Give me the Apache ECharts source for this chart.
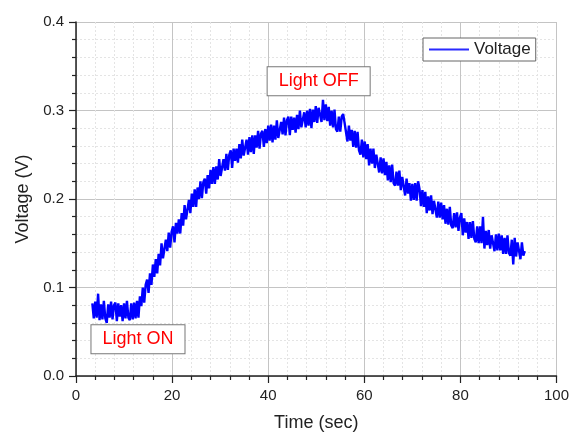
<!DOCTYPE html>
<html>
<head>
<meta charset="utf-8">
<script src="https://cdn.jsdelivr.net/npm/echarts@6/dist/echarts.min.js"></script>
<style>
html,body{margin:0;padding:0;background:#fff;}
#chart{width:572px;height:437px;}
</style>
</head>
<body>
<div id="chart"></div>
<script>
// Sampling of the time axis (sec)
var tStart = 3.4;
var tStep = 0.3;
// Voltage readings (V), one per sample
var voltage = [
0.082,0.065,0.084,0.066,0.093,0.063,0.081,0.064,0.085,0.065,
0.060,0.081,0.066,0.084,0.064,0.080,0.083,0.062,0.082,0.067,
0.080,0.062,0.082,0.065,0.085,0.066,0.063,0.082,0.064,0.083,
0.065,0.085,0.066,0.090,0.079,0.100,0.083,0.103,0.109,0.094,
0.116,0.103,0.126,0.112,0.132,0.116,0.138,0.125,0.150,0.133,
0.133,0.154,0.141,0.162,0.145,0.163,0.169,0.151,0.173,0.161,
0.177,0.161,0.184,0.170,0.193,0.177,0.177,0.199,0.184,0.206,
0.191,0.211,0.191,0.213,0.200,0.220,0.201,0.219,0.223,0.206,
0.227,0.212,0.233,0.217,0.236,0.217,0.237,0.222,0.245,0.226,
0.226,0.245,0.232,0.251,0.233,0.250,0.255,0.235,0.257,0.243,
0.257,0.241,0.262,0.246,0.267,0.249,0.247,0.267,0.250,0.270,
0.253,0.272,0.251,0.272,0.258,0.277,0.257,0.274,0.277,0.259,
0.279,0.263,0.283,0.266,0.284,0.264,0.283,0.267,0.289,0.269,
0.268,0.287,0.273,0.292,0.272,0.289,0.293,0.272,0.293,0.278,
0.292,0.275,0.295,0.279,0.300,0.281,0.279,0.298,0.281,0.300,
0.283,0.302,0.280,0.301,0.287,0.305,0.286,0.303,0.305,0.287,
0.312,0.289,0.307,0.288,0.304,0.283,0.300,0.281,0.301,0.279,
0.276,0.293,0.276,0.293,0.296,0.286,0.288,0.265,0.283,0.266,
0.278,0.259,0.277,0.258,0.276,0.255,0.250,0.267,0.247,0.265,
0.245,0.262,0.238,0.257,0.240,0.257,0.235,0.250,0.250,0.230,
0.247,0.229,0.246,0.227,0.242,0.221,0.238,0.219,0.239,0.218,
0.215,0.231,0.215,0.232,0.210,0.225,0.226,0.204,0.223,0.206,
0.218,0.198,0.217,0.199,0.218,0.198,0.220,0.211,0.192,0.210,
0.191,0.208,0.184,0.203,0.187,0.204,0.183,0.198,0.199,0.179,
0.197,0.179,0.196,0.177,0.193,0.172,0.189,0.171,0.191,0.170,
0.167,0.184,0.168,0.185,0.164,0.179,0.184,0.159,0.178,0.162,
0.174,0.155,0.174,0.156,0.175,0.155,0.151,0.169,0.150,0.169,
0.150,0.180,0.144,0.164,0.148,0.165,0.144,0.159,0.161,0.141,
0.160,0.142,0.161,0.142,0.159,0.138,0.156,0.138,0.159,0.139,
0.136,0.154,0.126,0.156,0.135,0.151,0.153,0.132,0.151,0.136,
0.141
];
// Annotations (data coordinates)
var annLabels = ['Light OFF', 'Light ON'];
var annX = [50.5, 12.9];
var annY = [0.333, 0.0415];

var seriesData = voltage.map(function (v, i) {
  return [+(tStart + i * tStep).toFixed(2), v];
});
var markData = annLabels.map(function (n, i) {
  return { name: n, coord: [annX[i], annY[i]] };
});

var FONT = 'Liberation Sans, Arial, sans-serif';
var chart = echarts.init(document.getElementById('chart'), null, { renderer: 'canvas' });
chart.setOption({
  animation: false,
  backgroundColor: '#fff',
  textStyle: { fontFamily: FONT },
  grid: { left: 76, right: 13, top: 22, bottom: 58, containLabel: false },
  legend: {
    left: 423, top: 38,
    padding: [3, 5, 3, 6],
    borderColor: '#666', borderWidth: 1,
    backgroundColor: '#fff',
    itemWidth: 40, itemHeight: 2, itemGap: 5,
    icon: 'rect',
    textStyle: { fontSize: 17, color: '#222', fontFamily: FONT, lineHeight: 17 },
    data: [{ name: 'Voltage', icon: 'rect', itemStyle: { color: '#2a2aff' } }]
  },
  xAxis: {
    type: 'value', min: 0, max: 100, interval: 20,
    name: 'Time (sec)', nameLocation: 'middle', nameGap: 38,
    nameTextStyle: { fontSize: 18, color: '#222', fontFamily: FONT },
    axisLine: { show: true, onZero: false, lineStyle: { color: '#222', width: 1.5 } },
    axisTick: { show: true, inside: false, length: 7, lineStyle: { color: '#222', width: 1.2 } },
    minorTick: { show: true, splitNumber: 5, length: 4, lineStyle: { color: '#222', width: 1.2 } },
    axisLabel: { fontSize: 15, color: '#222', margin: 12, fontFamily: FONT },
    splitLine: { show: true, lineStyle: { color: '#c4c4c4', width: 1 } },
    minorSplitLine: { show: true, lineStyle: { color: '#e4e4e4', width: 1, type: [2, 2] } }
  },
  yAxis: {
    type: 'value', min: 0, max: 0.4, interval: 0.1,
    name: 'Voltage (V)', nameLocation: 'middle', nameGap: 44,
    nameTextStyle: { fontSize: 18, color: '#222', fontFamily: FONT },
    axisLine: { show: true, onZero: false, lineStyle: { color: '#222', width: 1.5 } },
    axisTick: { show: true, inside: false, length: 7, lineStyle: { color: '#222', width: 1.2 } },
    minorTick: { show: true, splitNumber: 5, length: 4, lineStyle: { color: '#222', width: 1.2 } },
    axisLabel: { fontSize: 15, color: '#222', margin: 12, fontFamily: FONT,
      formatter: function (v) { return v.toFixed(1); } },
    splitLine: { show: true, lineStyle: { color: '#c4c4c4', width: 1 } },
    minorSplitLine: { show: true, lineStyle: { color: '#e4e4e4', width: 1, type: [2, 2] } }
  },
  series: [{
    name: 'Voltage',
    type: 'line',
    data: seriesData,
    symbol: 'none',
    showSymbol: false,
    sampling: null,
    lineStyle: { color: '#0000ff', width: 2.4 },
    itemStyle: { color: '#0000ff' },
    z: 3,
    markPoint: {
      symbol: 'rect',
      symbolSize: 1,
      itemStyle: { color: 'rgba(0,0,0,0)' },
      label: {
        show: true, position: 'inside',
        formatter: '{b}',
        color: '#ff0000', fontSize: 18, fontFamily: FONT,
        backgroundColor: '#fff',
        borderColor: '#777', borderWidth: 1,
        padding: [5, 11, 5, 11]
      },
      data: markData
    }
  }]
});
</script>
</body>
</html>
